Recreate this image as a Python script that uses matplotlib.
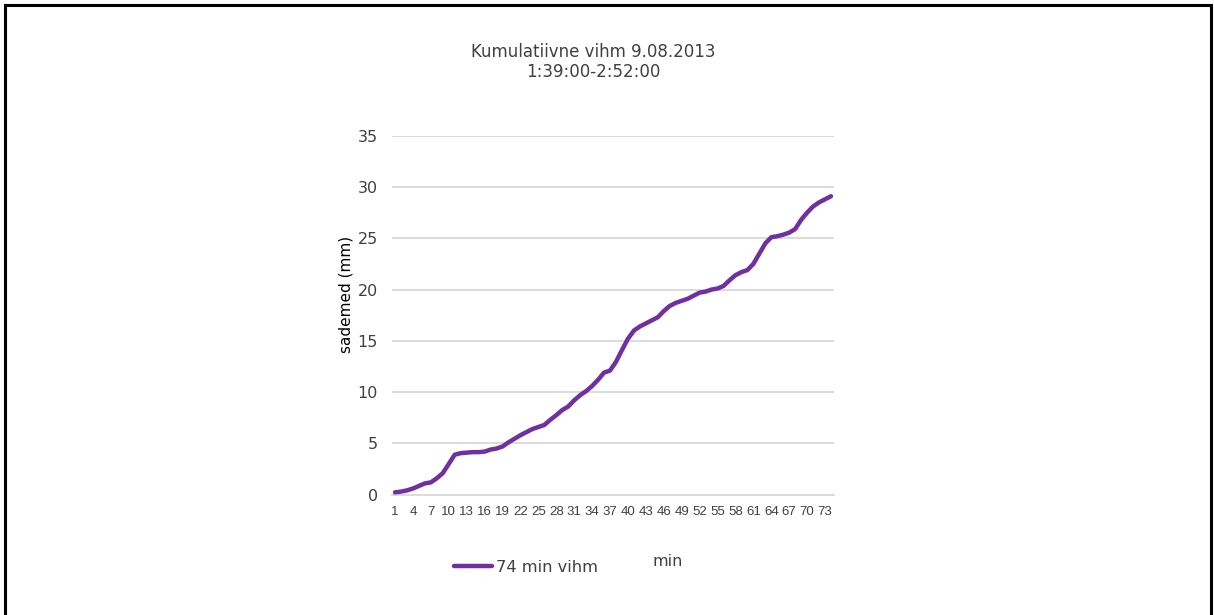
import matplotlib
matplotlib.use("Agg")
import matplotlib.pyplot as plt
from matplotlib.lines import Line2D

# Cumulative rainfall per minute (mm), 9.08.2013 1:39:00-2:52:00
minutes = list(range(1, 75))
rain_mm = [
    0.23, 0.30, 0.42, 0.60, 0.85, 1.10, 1.20, 1.60, 2.10, 3.00,
    3.90, 4.05, 4.10, 4.15, 4.15, 4.20, 4.40, 4.50, 4.70, 5.10,
    5.45, 5.80, 6.10, 6.40, 6.60, 6.80, 7.30, 7.75, 8.25, 8.60,
    9.20, 9.70, 10.10, 10.60, 11.20, 11.90, 12.10, 12.95, 14.10, 15.20,
    16.00, 16.40, 16.70, 17.00, 17.30, 17.90, 18.40, 18.70, 18.90, 19.10,
    19.40, 19.70, 19.80, 20.00, 20.10, 20.35, 20.90, 21.40, 21.70, 21.90,
    22.50, 23.50, 24.50, 25.10, 25.20, 25.35, 25.55, 25.90, 26.80, 27.50,
    28.10, 28.50, 28.80, 29.10,
]
x_tick_labels = [str(m) for m in minutes[::3]]
y_ticks = [0, 5, 10, 15, 20, 25, 30, 35]

title_text = "Kumulatiivne vihm 9.08.2013\n1:39:00-2:52:00"
series_label = "74 min vihm"
x_label = "min"
y_label = "sademed (mm)"

line_color = "#7030A0"
grid_color = "#D9D9D9"
text_color = "#404040"

W, H = 1214, 615
fig = plt.figure(figsize=(W / 100, H / 100), dpi=100)
fig.patch.set_facecolor("white")

# Frame around the chart area (open at the bottom)
frame_x = [5 / W, 5 / W, 1211 / W, 1211 / W]
frame_y = [0, 1 - 5 / H, 1 - 5 / H, 0]
fig.add_artist(Line2D(frame_x, frame_y, color="black", lw=2.2,
                      transform=fig.transFigure, solid_joinstyle="miter"))

ax = fig.add_axes([392 / W, 1 - 494.7 / H, (834 - 392) / W, (494.7 - 135.7) / H])
ax.plot(minutes, rain_mm, color=line_color, lw=3.2,
        solid_capstyle="round", solid_joinstyle="round", zorder=3)

ax.set_xlim(0.5, 74.5)
ax.set_ylim(0, 35)
ax.set_yticks(y_ticks)
ax.set_xticks(minutes[::3])
ax.set_xticklabels(x_tick_labels, fontsize=9.5, color=text_color,
                   family="Liberation Sans")
ax.tick_params(axis="x", length=0, pad=8)
ax.tick_params(axis="y", length=0, pad=10, labelsize=11.5, labelcolor=text_color)
for lbl in ax.get_yticklabels():
    lbl.set_family("DejaVu Sans")

ax.grid(axis="y", color=grid_color, lw=1.3)
ax.set_axisbelow(True)
for side in ("top", "right", "left"):
    ax.spines[side].set_visible(False)
ax.spines["bottom"].set_color(grid_color)
ax.spines["bottom"].set_linewidth(1.3)

fig.text(593 / W, 1 - 62 / H, title_text, ha="center", va="center",
         fontsize=12, color=text_color, linespacing=1.2)
fig.text(346 / W, 1 - 294 / H, y_label, rotation=90, ha="center", va="center",
         fontsize=11, color="black")
fig.text(668 / W, 1 - 562 / H, x_label, ha="center", va="center",
         fontsize=11.5, color=text_color)

# Legend entry below the plot
fig.add_artist(Line2D([454 / W, 492 / W], [1 - 566 / H, 1 - 566 / H],
                      color=line_color, lw=3.2, solid_capstyle="round",
                      transform=fig.transFigure))
fig.text(496 / W, 1 - 567 / H, series_label, ha="left", va="center",
         fontsize=11.7, color=text_color)

fig.savefig("out.png", dpi=100, facecolor="white")
